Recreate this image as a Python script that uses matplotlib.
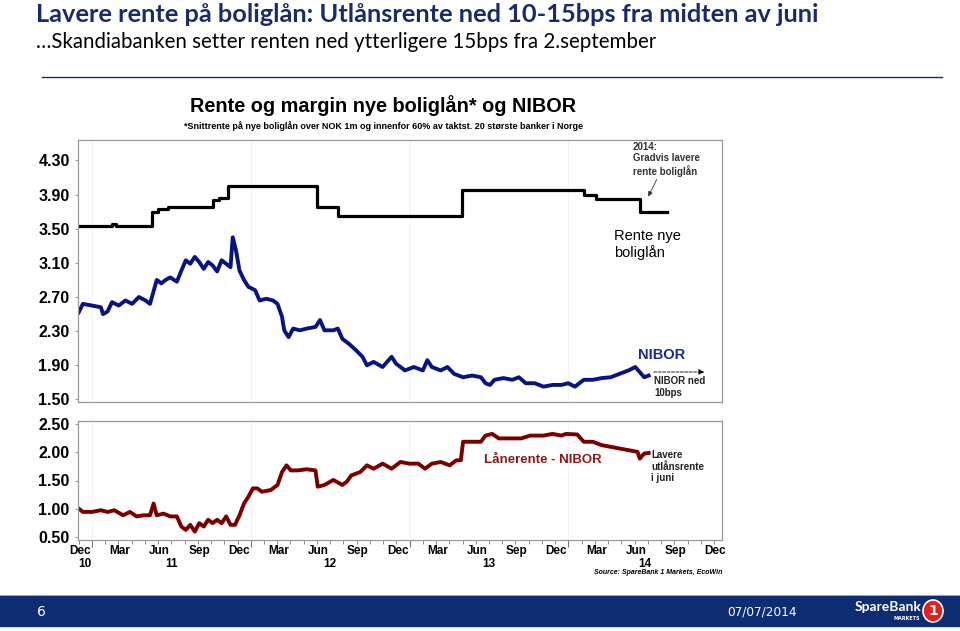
import matplotlib
matplotlib.use("Agg")
import matplotlib.pyplot as plt
from matplotlib.patches import Rectangle, Ellipse
import numpy as np

# x-akse: maaneder etter 1. des 2010 (0 = 1. des 2010)
# Rente nye boliglaan (trappetrinn)
rente_mnd = [0.0, 2.5, 2.8, 5.56, 6.0, 6.74, 7.5, 10.12, 10.6, 11.30, 17.99, 19.58, 28.97, 38.16, 39.11, 42.39, 44.41]
rente_niva = [3.53, 3.55, 3.53, 3.70, 3.73, 3.75, 3.76, 3.84, 3.86, 4.00, 3.75, 3.65, 3.95, 3.90, 3.85, 3.70, 3.70]

# NIBOR
nibor_mnd = [0.0, 0.32, 1.0, 1.68, 1.84, 2.18, 2.52, 3.03, 3.53, 4.04, 4.55, 5.05, 5.39, 5.90, 6.24,
             6.57, 6.91, 7.42, 7.76, 8.09, 8.43, 8.77, 9.11, 9.45, 9.78, 10.12, 10.46, 10.80, 11.14,
             11.47, 11.64, 11.88, 12.15, 12.49, 12.82, 13.33, 13.67, 14.18, 14.68, 15.02, 15.36, 15.53,
             15.86, 16.20, 16.71, 17.22, 17.89, 18.23, 18.57, 19.24, 19.58, 19.92, 20.43, 20.93, 21.44,
             21.78, 22.28, 22.96, 23.64, 23.97, 24.65, 25.32, 26.0, 26.34, 26.68, 27.35, 27.86, 28.36,
             29.04, 29.72, 30.39, 30.73, 31.07, 31.41, 32.08, 32.76, 33.26, 33.77, 34.45, 35.12, 35.80,
             36.47, 36.98, 37.49, 38.16, 38.84, 39.51, 40.19, 40.86, 41.54, 42.05, 42.39, 42.72, 43.06]
nibor = [2.52, 2.62, 2.60, 2.58, 2.50, 2.53, 2.64, 2.60, 2.66, 2.62, 2.70, 2.66, 2.62, 2.90, 2.86,
         2.90, 2.93, 2.88, 3.01, 3.13, 3.09, 3.17, 3.11, 3.03, 3.11, 3.07, 3.00, 3.13, 3.09,
         3.05, 3.40, 3.25, 3.01, 2.90, 2.82, 2.78, 2.66, 2.68, 2.66, 2.62, 2.47, 2.31,
         2.23, 2.33, 2.31, 2.33, 2.35, 2.43, 2.31, 2.31, 2.33, 2.21, 2.15, 2.08, 2.00,
         1.90, 1.94, 1.88, 2.00, 1.92, 1.84, 1.88, 1.84, 1.96, 1.88, 1.84, 1.88, 1.80,
         1.76, 1.78, 1.76, 1.69, 1.67, 1.73, 1.75, 1.73, 1.76, 1.69, 1.69, 1.65, 1.67,
         1.67, 1.69, 1.65, 1.73, 1.73, 1.75, 1.76, 1.80, 1.84, 1.88, 1.82, 1.76, 1.78]

# Laanerente - NIBOR
spread_mnd = [0.0, 0.32, 1.0, 1.68, 2.18, 2.69, 3.36, 3.87, 4.38, 4.89, 5.39, 5.66, 5.90, 6.41,
              6.91, 7.42, 7.76, 8.09, 8.43, 8.77, 9.11, 9.45, 9.78, 10.12, 10.46, 10.80, 11.14,
              11.47, 11.81, 12.15, 12.49, 12.82, 13.16, 13.50, 13.84, 14.51, 15.02, 15.36, 15.70,
              16.03, 16.54, 17.22, 17.89, 18.06, 18.57, 19.24, 19.92, 20.26, 20.59, 21.27, 21.78,
              22.28, 22.96, 23.64, 24.31, 24.99, 25.66, 26.17, 26.68, 27.35, 28.03, 28.53, 28.87,
              29.04, 29.72, 30.39, 30.73, 31.24, 31.74, 32.76, 33.43, 34.11, 35.12, 35.80, 36.47,
              36.81, 37.66, 38.16, 38.84, 39.51, 40.19, 40.86, 41.54, 42.22, 42.39, 42.72, 43.06]
spread = [1.00, 0.94, 0.94, 0.97, 0.94, 0.97, 0.88, 0.94, 0.86, 0.88, 0.88, 1.09, 0.88, 0.91,
          0.86, 0.86, 0.68, 0.62, 0.71, 0.59, 0.74, 0.68, 0.80, 0.74, 0.80, 0.74, 0.86,
          0.71, 0.71, 0.88, 1.09, 1.21, 1.36, 1.36, 1.30, 1.33, 1.42, 1.65, 1.77,
          1.68, 1.68, 1.70, 1.68, 1.39, 1.42, 1.51, 1.42, 1.48, 1.59, 1.65, 1.77,
          1.71, 1.80, 1.71, 1.83, 1.80, 1.80, 1.71, 1.80, 1.83, 1.77, 1.86, 1.86,
          2.19, 2.19, 2.19, 2.30, 2.33, 2.25, 2.25, 2.25, 2.30, 2.30, 2.33, 2.30,
          2.33, 2.32, 2.19, 2.19, 2.13, 2.10, 2.07, 2.04, 2.01, 1.89, 1.98, 1.99]

mnd_navn = ['Dec', 'Mar', 'Jun', 'Sep']
aar_navn = ['10', '11', '12', '13', '14']
top_ticks = [1.50, 1.90, 2.30, 2.70, 3.10, 3.50, 3.90, 4.30]
bunn_ticks = [0.50, 1.00, 1.50, 2.00, 2.50]

NAVY = '#1b2a6b'
NARROW = ['Liberation Sans Narrow', 'Liberation Sans', 'DejaVu Sans']
ARIAL = ['Liberation Sans', 'DejaVu Sans']

W, H = 960, 631
fig = plt.figure(figsize=(W / 100, H / 100), dpi=100)


def px(x, y):
    # piksel (fra oevre venstre hjoerne) -> figurbroek
    return x / W, 1 - y / H


def add_panel(left, top, right, bottom):
    l, t = px(left, top)
    r, b = px(right, bottom)
    return fig.add_axes([l, b, r - l, t - b])


# ---- tittel ----
fig.text(*px(36, 14), 'Lavere rente på boliglån: Utlånsrente ned 10-15bps fra midten av juni',
         fontsize=18.3, fontweight='bold', color=NAVY, family='Lato', va='center')
fig.text(*px(36, 42), '\u2026Skandiabanken setter renten ned ytterligere 15bps fra 2.september',
         fontsize=14.8, color='black', family='Lato', va='center')
fig.add_artist(plt.Line2D([42 / W, 942 / W], [1 - 77 / H, 1 - 77 / H], color=NAVY, lw=1.0))

fig.text(*px(383, 106), 'Rente og margin nye boliglån* og NIBOR', fontsize=14.3, fontweight='bold',
         family=NARROW, ha='center', va='center')
fig.text(*px(383, 126), '*Snittrente på nye boliglån over NOK 1m og innenfor 60% av taktst. 20 største banker i Norge',
         fontsize=6.5, fontweight='bold', family=NARROW, ha='center', va='center')

# ---- oevre panel ----
ax1 = add_panel(78, 140, 722, 402)
ax1.plot(rente_mnd, rente_niva, drawstyle='steps-post', color='black', lw=2.3)
ax1.plot(nibor_mnd, nibor, color='#0a1480', lw=2.8)
ax1.set_ylim(1.47, 4.54)
ax1.set_yticks(top_ticks)
ax1.set_yticklabels([f'{v:.2f}' for v in top_ticks])

# ---- nedre panel ----
ax2 = add_panel(78, 421, 722, 540)
ax2.plot(spread_mnd, spread, color='#7a0000', lw=2.8)
ax2.set_ylim(0.44, 2.56)
ax2.set_yticks(bunn_ticks)
ax2.set_yticklabels([f'{v:.2f}' for v in bunn_ticks])

for ax in (ax1, ax2):
    ax.set_xlim(-0.05, 48.6)
    for s in ax.spines.values():
        s.set_color('#9a9a9a')
        s.set_linewidth(0.9)
    for j in (1, 13, 25, 37):
        ax.axvline(j, color='#d8d8e8', lw=0.6, ls=':', zorder=0)
    ax.tick_params(axis='y', length=2, color='#9a9a9a', pad=4)
    for lab in ax.get_yticklabels():
        lab.set_family(NARROW)
        lab.set_fontweight('bold')
        lab.set_fontsize(11.5)

ax1.set_xticks([])
ax2.set_xticks(np.arange(1, 49, 12))
ax2.set_xticks(np.arange(0, 49, 1), minor=True)
ax2.set_xticklabels([])
ax2.tick_params(axis='x', which='major', length=5, color='#777777')
ax2.tick_params(axis='x', which='minor', length=3, color='#777777')

# maaned- og aarsetiketter
for i in range(17):
    m = i * 3
    ax2.text(m + 0.1, -0.09, mnd_navn[i % 4], transform=ax2.get_xaxis_transform(),
             ha='center', va='center', fontsize=8.5, fontweight='bold', family=NARROW)
aar_pos = [0.5, 7.0, 19.0, 31.0, 42.8]
for p, a in zip(aar_pos, aar_navn):
    ax2.text(p, -0.2, a, transform=ax2.get_xaxis_transform(),
             ha='center', va='center', fontsize=8.5, fontweight='bold', family=NARROW)

# ---- annoteringer ----
fig.text(*px(633, 142), '2014:\nGradvis lavere\nrente boliglån', fontsize=7, fontweight='bold',
         color='#333333', va='top', linespacing=1.15, family=ARIAL)
ax1.annotate('', xy=px(647, 199), xycoords='figure fraction', xytext=px(658, 177),
             textcoords='figure fraction',
             arrowprops=dict(arrowstyle='-|>', color='#333333', lw=0.6, mutation_scale=7))
fig.text(*px(614, 229), 'Rente nye\nboliglån', fontsize=10.5, color='black', va='top',
         linespacing=1.15, family=ARIAL)
fig.text(*px(638, 355), 'NIBOR', fontsize=10.5, fontweight='bold', color='#1a2a8a', va='center',
         family=ARIAL)
ax1.annotate('', xy=px(707, 372), xycoords='figure fraction', xytext=px(651, 372),
             textcoords='figure fraction',
             arrowprops=dict(arrowstyle='-|>', color='black', lw=0.6, ls='--', mutation_scale=8))
fig.text(*px(654, 376), 'NIBOR ned\n10bps', fontsize=7, fontweight='bold', color='#222222',
         va='top', linespacing=1.25, family=ARIAL)
fig.text(*px(484, 460), 'Lånerente - NIBOR', fontsize=9.5, fontweight='bold', color='#8b1a1a',
         va='center', family=ARIAL)
fig.text(*px(651, 450), 'Lavere\nutlånsrente\ni juni', fontsize=7, fontweight='bold', color='#222222',
         va='top', linespacing=1.2, family=ARIAL)
fig.text(*px(722, 573), 'Source: SpareBank 1 Markets, EcoWin', fontsize=5, fontweight='bold',
         style='italic', ha='right', va='center', family=ARIAL)

# ---- bunnlinje ----
fig.add_artist(Rectangle(px(0, 626), 1, 30 / H, transform=fig.transFigure, color='#0e2c72', zorder=5))
fig.add_artist(plt.Line2D([0, 1], [1 - 595 / H] * 2, color='#b8c0d8', lw=0.8))
fig.text(*px(37, 612), '6', fontsize=10, color='white', va='center', family='DejaVu Sans', zorder=6)
fig.text(*px(727, 612), '07/07/2014', fontsize=8.7, color='white', va='center', family='DejaVu Sans',
         zorder=6)
fig.text(*px(855, 607), 'SpareBank', fontsize=10, fontweight='bold', color='white', va='center',
         family='Lato', zorder=6)
fig.text(*px(920, 618), 'MARKETS', fontsize=3.5, fontweight='bold', color='white', va='center',
         ha='right', zorder=6)
fig.add_artist(Ellipse(px(933, 611), 20 / W, 22 / H, transform=fig.transFigure,
                       facecolor='#e2211c', edgecolor='white', lw=1.2, zorder=6))
fig.text(*px(933, 611), '1', fontsize=10, fontweight='bold', color='white', ha='center', va='center',
         zorder=7)

fig.savefig('out.png', dpi=100)
